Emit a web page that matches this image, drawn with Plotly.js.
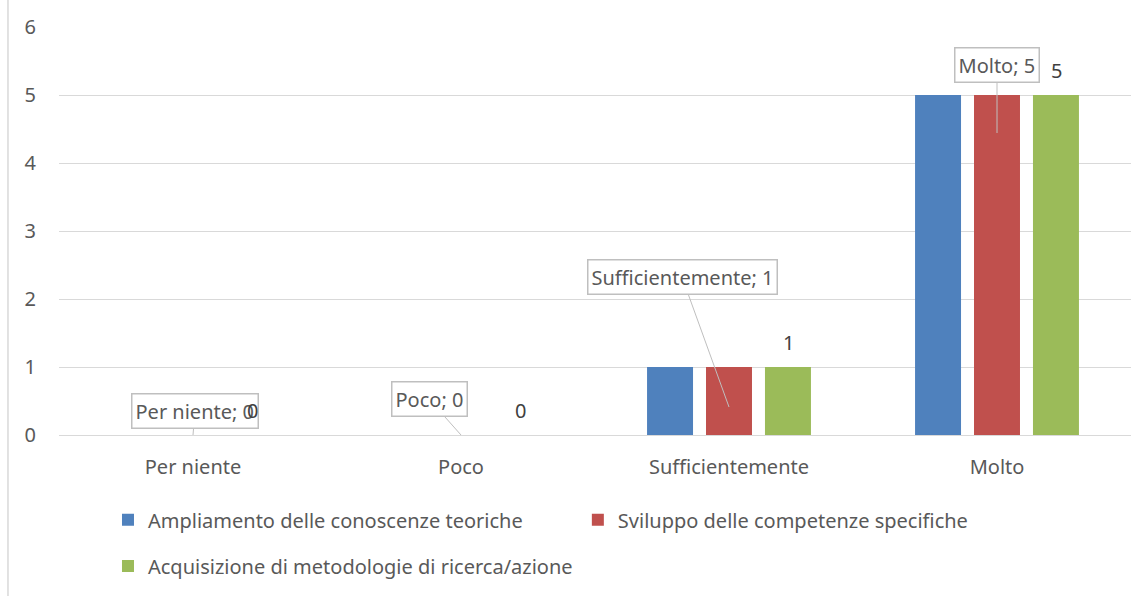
<!DOCTYPE html>
<html>
<head>
<meta charset="utf-8">
<script src="https://cdn.plot.ly/plotly-3.0.1.min.js"></script>
<style>html,body{margin:0;padding:0;background:#fff;}#chart{width:1144px;height:596px;}</style>
</head>
<body>
<div id="chart"></div>
<script>
const categories = ["Per niente", "Poco", "Sufficientemente", "Molto"];
const seriesNames = [
  "Ampliamento delle conoscenze teoriche",
  "Sviluppo delle competenze specifiche",
  "Acquisizione di metodologie di ricerca/azione"
];
const ampliamento = [0, 0, 1, 5];
const sviluppo = [0, 0, 1, 5];
const acquisizione = [0, 0, 1, 5];
const yTicks = [0, 1, 2, 3, 4, 5, 6];

const colors = ["#4F81BD", "#C0504D", "#9BBB59"];
const font = "Noto Sans, Open Sans, sans-serif";
const txt = "#595959";
const fs = 20;

const series = [ampliamento, sviluppo, acquisizione];
const legends = ["legend", "legend2", "legend3"];
const traces = series.map((vals, i) => ({
  type: "bar",
  name: seriesNames[i],
  x: categories,
  y: vals,
  marker: {color: colors[i]},
  legend: legends[i],
  hoverinfo: "skip"
}));

// callout style offsets (pixels) for the red-series labels
const calloutStyle = [
  {ax: 2, ay: -24, ys: 0},
  {ax: -32, ay: -36, ys: 0},
  {ax: -47, ay: -130, ys: -40},
  {ax: 0, ay: -68, ys: -38}
];
const annotations = [];
categories.forEach((c, i) => {
  const s = calloutStyle[i];
  annotations.push({
    x: c, y: sviluppo[i], xref: "x", yref: "y",
    text: c + "; " + sviluppo[i],
    showarrow: true, arrowhead: 0, arrowwidth: 1, arrowcolor: "#BFBFBF",
    ax: s.ax, ay: s.ay, yshift: s.ys,
    bgcolor: "#ffffff", bordercolor: "#BFBFBF", borderwidth: 1.5, borderpad: 3,
    font: {family: font, size: fs, color: txt}
  });
});
categories.forEach((c, i) => {
  annotations.push({
    x: c, y: acquisizione[i], xref: "x", yref: "y",
    text: String(acquisizione[i]),
    showarrow: false, xshift: 59, yshift: 25,
    font: {family: font, size: fs, color: "#404040"}
  });
});

const legendBase = {
  orientation: "h", xanchor: "left", yanchor: "top",
  font: {family: font, size: fs, color: txt},
  bgcolor: "rgba(0,0,0,0)"
};

const layout = {
  width: 1144, height: 596,
  margin: {l: 59, r: 13, t: 27, b: 161, autoexpand: false},
  paper_bgcolor: "#ffffff", plot_bgcolor: "#ffffff",
  font: {family: font, size: fs, color: txt},
  barmode: "group", bargap: 0.34, bargroupgap: 0.22,
  showlegend: true,
  legend: Object.assign({}, legendBase, {x: 0.0457, y: -0.160}),
  legend2: Object.assign({}, legendBase, {x: 0.484, y: -0.160}),
  legend3: Object.assign({}, legendBase, {x: 0.0457, y: -0.273}),
  xaxis: {
    type: "category", showgrid: false, ticks: "", showline: false,
    tickfont: {family: font, size: fs, color: txt},
    ticklabelstandoff: 18, fixedrange: true
  },
  yaxis: {
    range: [0, 6], tickvals: yTicks, ticktext: yTicks.map(String),
    showgrid: true, gridcolor: "#D9D9D9", gridwidth: 1,
    zeroline: true, zerolinecolor: "#D9D9D9", zerolinewidth: 1,
    showline: false, ticks: "",
    tickfont: {family: font, size: fs, color: txt},
    ticklabelstandoff: 22, fixedrange: true
  },
  shapes: [{
    type: "line", xref: "paper", yref: "paper",
    x0: -0.0476, x1: -0.0476, y0: -0.395, y1: 1.066,
    line: {color: "#D9D9D9", width: 1.5}
  }],
  annotations: annotations
};

Plotly.newPlot("chart", traces, layout, {displayModeBar: false, staticPlot: true});
</script>
</body>
</html>
